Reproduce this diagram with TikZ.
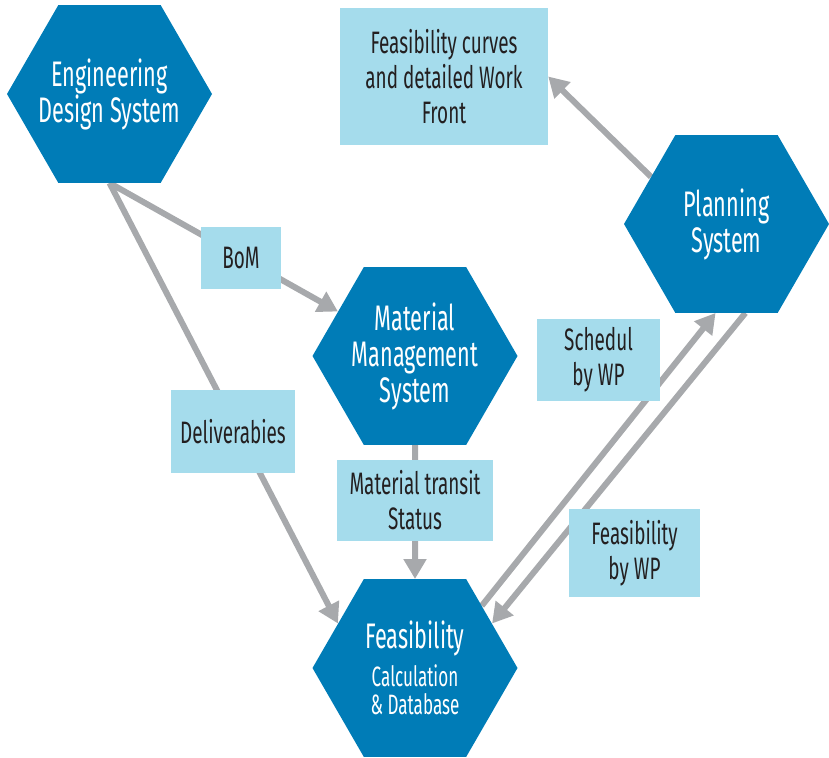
\documentclass[tikz,border=0pt]{standalone}
\usepackage{fontspec}
\setmainfont{Fira Sans}[FakeStretch=0.61]
\usetikzlibrary{shapes.geometric,arrows.meta,backgrounds}

\definecolor{hexblue}{HTML}{007CB7}
\definecolor{boxblue}{HTML}{A5DCEC}
\definecolor{arrowgray}{HTML}{A7A9AC}
\definecolor{labeltext}{HTML}{231F20}

\tikzset{
  hexbox/.style={regular polygon, regular polygon sides=6,
    minimum size=205pt, inner sep=-20pt, fill=hexblue, text=white, align=center,
    font=\fontsize{35.5}{36}\selectfont},
  labelbox/.style={rectangle, fill=boxblue, text=labeltext, align=center,
    inner sep=0pt, font=\fontsize{31}{35}\selectfont},
  flowarrow/.style={draw=arrowgray, line width=6pt,
    -{Triangle[width=22pt,length=20pt]}}
}

\begin{document}
\begin{tikzpicture}[x=1pt,y=-1pt]

\useasboundingbox (0,0) rectangle (829,757);

% systems
\node[hexbox] (eng) at (109.5,94)  {Engineering\\Design System};
\node[hexbox] (mat) at (415,356)   {Material\\Management\\System};
\node[hexbox] (fea) at (415,668)   {Feasibility\\[2pt]
  \fontsize{28}{27}\selectfont Calculation\\[-8pt]\fontsize{28}{27}\selectfont\& Database};
\node[hexbox] (pla) at (726.5,224) {Planning\\System};

% exchanged information
\node[labelbox, minimum width=208pt, minimum height=137pt] (curves) at (444,76.5)
  {Feasibility curves\\and detailed Work\\Front};
\node[labelbox, minimum width=80pt,  minimum height=62pt] (bom) at (241,258) {BoM};
\node[labelbox, minimum width=124pt, minimum height=83pt] (deliv) at (233,431.5) {Deliverabies};
\node[labelbox, minimum width=156pt, minimum height=81pt] (transit) at (415,500.5)
  {Material transit\\Status};
\node[labelbox, minimum width=123pt, minimum height=82pt] (sched) at (598.5,360) {Schedul\\by WP};
\node[labelbox, minimum width=131pt, minimum height=88pt] (feawp) at (634.5,553)
  {Feasibility\\by WP};

\begin{scope}[on background layer]
\draw[flowarrow] (eng.south) -- (mat.150);
\draw[flowarrow] (eng.south) -- (fea.150);
\draw[flowarrow] (mat.south) -- (fea.north);
\draw[flowarrow] (fea.43) -- (pla.263);
\draw[flowarrow] (pla.282) -- (fea.30);
\draw[flowarrow] (pla.148) -- (curves.east);
\end{scope}

\end{tikzpicture}
\end{document}
